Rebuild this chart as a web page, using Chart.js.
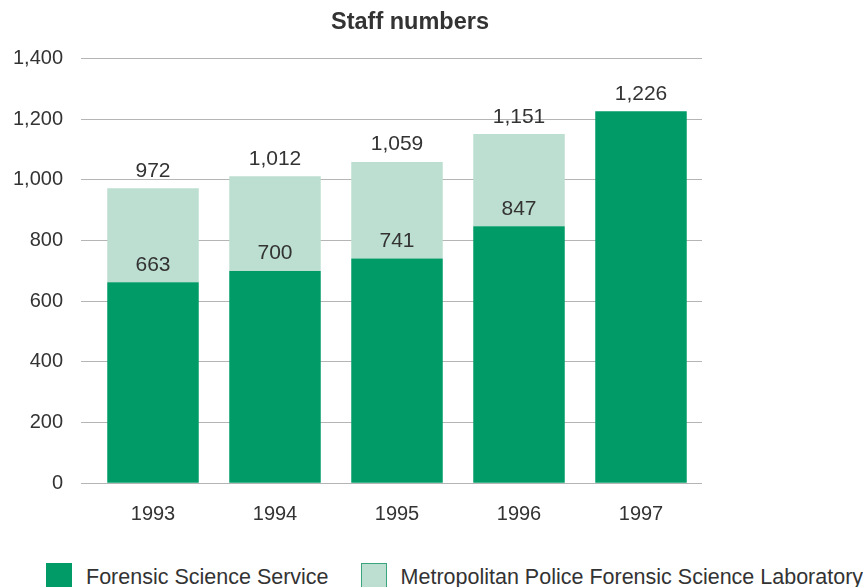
<!DOCTYPE html>
<html lang="en">
<head>
<meta charset="utf-8">
<title>Staff numbers</title>
<script src="https://cdn.jsdelivr.net/npm/chart.js"></script>
<style>
    html, body {
        margin: 0;
        padding: 0;
        background: #fff;
        overflow: hidden;
    }
    .wrap {
        position: relative;
        width: 863px;
        height: 587px;
    }
    .chart-box {
        position: absolute;
        left: 0;
        top: 0;
        width: 820px;
        height: 545px;
    }
    .legend {
        position: absolute;
        left: 46px;
        top: 563px;
        display: flex;
        align-items: flex-start;
        font-family: "Liberation Sans", Arial, sans-serif;
        font-size: 21.5px;
        color: #333;
        white-space: nowrap;
    }
    .legend .item {
        display: flex;
        align-items: flex-start;
        margin-right: 32px;
    }
    .legend .swatch {
        width: 26px;
        height: 26px;
        box-sizing: border-box;
        margin-right: 14px;
    }
    .legend .text {
        line-height: 26px;
        padding-top: 1px;
    }
</style>
</head>
<body>
<div class="wrap">
    <div class="chart-box"><canvas id="staff-chart"></canvas></div>
    <div class="legend" id="legend"></div>
</div>
<script>
    let years = ['1993', '1994', '1995', '1996', '1997'];
    let forensicService = [663, 700, 741, 847, 1226];
    let metLaboratory = [309, 312, 318, 304, 0];
    let yTicks = [0, 200, 400, 600, 800, 1000, 1200, 1400];

    let darkGreen = '#009b67';
    let lightGreen = '#bcdfd1';
    let textColor = '#333333';
    let fontFamily = '"Liberation Sans", Arial, sans-serif';

    let fmt = (v) => v.toLocaleString('en-US');

    // value labels: FSS figure on top of the dark bar, total on top of the stack
    let barLabels = {
        id: 'barLabels',
        afterDatasetsDraw(chart) {
            let ctx = chart.ctx;
            let fssMeta = chart.getDatasetMeta(0);
            let metMeta = chart.getDatasetMeta(1);
            ctx.save();
            ctx.font = '21px ' + fontFamily;
            ctx.fillStyle = textColor;
            ctx.textAlign = 'center';
            ctx.textBaseline = 'alphabetic';
            for (let i = 0; i < years.length; i++) {
                let fssBar = fssMeta.data[i];
                ctx.fillText(fmt(forensicService[i]), fssBar.x, fssBar.y - 11.5);
                if (metLaboratory[i] > 0) {
                    let metBar = metMeta.data[i];
                    ctx.fillText(fmt(forensicService[i] + metLaboratory[i]), metBar.x, metBar.y - 11.5);
                }
            }
            ctx.restore();
        }
    };

    let staffChart = new Chart(document.getElementById('staff-chart'), {
        type: 'bar',
        data: {
            labels: years,
            datasets: [{
                label: 'Forensic Science Service',
                data: forensicService,
                backgroundColor: darkGreen,
                borderColor: darkGreen,
                borderWidth: 0
            }, {
                label: 'Metropolitan Police Forensic Science Laboratory',
                data: metLaboratory,
                backgroundColor: lightGreen,
                borderColor: '#3aa57d',
                borderWidth: 0
            }]
        },
        options: {
            responsive: true,
            maintainAspectRatio: false,
            animation: false,
            layout: { padding: 0 },
            datasets: {
                bar: { categoryPercentage: 1, barPercentage: 0.75 }
            },
            plugins: {
                title: {
                    display: true,
                    text: 'Staff numbers',
                    color: textColor,
                    font: { family: fontFamily, size: 23.5, weight: 'bold' },
                    padding: { top: 8, bottom: 22.3 }
                },
                legend: { display: false },
                tooltip: { enabled: false }
            },
            scales: {
                x: {
                    stacked: true,
                    grid: { display: false, drawTicks: false },
                    border: { display: false },
                    ticks: {
                        color: textColor,
                        font: { family: fontFamily, size: 20 },
                        padding: 19
                    },
                    afterFit: (scale) => { scale.height = 61.7; }
                },
                y: {
                    stacked: true,
                    min: 0,
                    max: 1400,
                    afterBuildTicks: (scale) => {
                        scale.ticks = yTicks.map((v) => ({ value: v }));
                    },
                    grid: {
                        color: '#b5b5b5',
                        lineWidth: 1,
                        tickLength: 11
                    },
                    border: { display: false },
                    ticks: {
                        color: textColor,
                        font: { family: fontFamily, size: 20 },
                        padding: 18,
                        callback: (v) => fmt(v)
                    },
                    afterFit: (scale) => { scale.width = 92; }
                },
                yRight: {
                    type: 'linear',
                    position: 'right',
                    grid: { display: false },
                    border: { display: false },
                    ticks: { display: false },
                    afterFit: (scale) => { scale.width = 118; }
                }
            }
        },
        plugins: [barLabels]
    });

    // legend below the chart, built from the datasets
    let legend = document.getElementById('legend');
    staffChart.data.datasets.forEach((ds) => {
        let item = document.createElement('div');
        item.className = 'item';
        let swatch = document.createElement('span');
        swatch.className = 'swatch';
        swatch.style.background = ds.backgroundColor;
        swatch.style.border = '1px solid ' + ds.borderColor;
        let text = document.createElement('span');
        text.className = 'text';
        text.textContent = ds.label;
        item.appendChild(swatch);
        item.appendChild(text);
        legend.appendChild(item);
    });
</script>
</body>
</html>
